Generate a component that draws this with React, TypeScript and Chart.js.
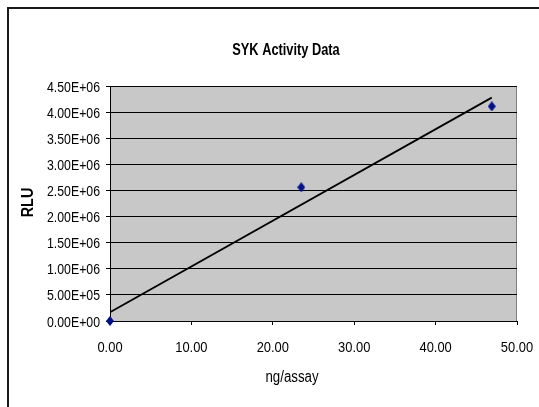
import React, { useEffect, useRef } from "react";
import { Chart, registerables } from "chart.js";

Chart.register(...registerables);

const TITLE = "SYK Activity Data";
const X_TITLE = "ng/assay";
const Y_TITLE = "RLU";
const NG_PER_ASSAY = [0, 23.5, 46.9];
const RLU = [0, 2.56e6, 4.11e6];
const X_TICKS = [0, 10, 20, 30, 40, 50];
const Y_MAX = 4.5e6;
const Y_STEP = 5e5;

const FONT = "'Liberation Sans', Arial, sans-serif";

function fmtExp(v: number): string {
  const s = Number(v).toExponential(2);
  const [m, e] = s.split("e");
  const sign = e.startsWith("-") ? "-" : "+";
  const digits = e.replace(/[+-]/, "").padStart(2, "0");
  return `${m}E${sign}${digits}`;
}

function linearFit(xs: number[], ys: number[]) {
  const n = xs.length;
  const mx = xs.reduce((a, b) => a + b, 0) / n;
  const my = ys.reduce((a, b) => a + b, 0) / n;
  let sxy = 0;
  let sxx = 0;
  for (let i = 0; i < n; i++) {
    sxy += (xs[i] - mx) * (ys[i] - my);
    sxx += (xs[i] - mx) * (xs[i] - mx);
  }
  const slope = sxy / sxx;
  return { slope, intercept: my - slope * mx };
}

function narrowText(
  ctx: CanvasRenderingContext2D,
  text: string,
  x: number,
  y: number,
  font: string,
  sx: number,
  align: CanvasTextAlign,
  rot = 0
) {
  ctx.save();
  ctx.translate(x, y);
  if (rot) ctx.rotate(rot);
  ctx.scale(sx, 1);
  ctx.font = font;
  ctx.textAlign = align;
  ctx.textBaseline = "alphabetic";
  ctx.fillStyle = "#000";
  ctx.fillText(text, 0, 0);
  ctx.restore();
}

function makeDiamond(): HTMLCanvasElement {
  const c = document.createElement("canvas");
  c.width = 8;
  c.height = 10;
  const g = c.getContext("2d")!;
  g.fillStyle = "#00108a";
  g.beginPath();
  g.moveTo(4, 0);
  g.lineTo(8, 5);
  g.lineTo(4, 10);
  g.lineTo(0, 5);
  g.closePath();
  g.fill();
  return c;
}

const plotBg = {
  id: "plotBg",
  beforeDraw(chart: any) {
    const { ctx, chartArea } = chart;
    if (!chartArea) return;
    ctx.save();
    ctx.fillStyle = "#c8c8c8";
    ctx.fillRect(chartArea.left, chartArea.top, chartArea.right - chartArea.left, chartArea.bottom - chartArea.top);
    ctx.strokeStyle = "#808080";
    ctx.lineWidth = 1;
    ctx.strokeRect(chartArea.left + 0.5, chartArea.top + 0.5, chartArea.right - chartArea.left - 1, chartArea.bottom - chartArea.top);
    ctx.restore();
  },
};

const labels = {
  id: "labels",
  afterDraw(chart: any) {
    const { ctx, scales } = chart;
    const xs = scales.x;
    const ys = scales.y;
    const tickFont = `15px ${FONT}`;
    xs.ticks.forEach((t: any) => {
      narrowText(ctx, Number(t.value).toFixed(2), xs.getPixelForValue(t.value), xs.bottom - 86 + 30.5, tickFont, 0.86, "center");
    });
    ys.ticks.forEach((t: any) => {
      narrowText(ctx, fmtExp(Number(t.value)), ys.right - 10, ys.getPixelForValue(t.value) + 5.5, tickFont, 0.82, "right");
    });
    narrowText(ctx, TITLE, 286, 55, `bold 16px ${FONT}`, 0.8, "center");
    narrowText(ctx, X_TITLE, 292, 382, `16px ${FONT}`, 0.83, "center");
    narrowText(ctx, Y_TITLE, 32.5, (ys.top + ys.bottom) / 2 - 1, `bold 16px ${FONT}`, 0.9, "center", -Math.PI / 2);
  },
};

export default function App() {
  const ref = useRef<HTMLCanvasElement | null>(null);

  useEffect(() => {
    if (!ref.current) return;
    const fit = linearFit(NG_PER_ASSAY, RLU);
    const xMin = Math.min(...NG_PER_ASSAY);
    const xMax = Math.max(...NG_PER_ASSAY);
    const trend = [
      { x: xMin, y: fit.intercept + fit.slope * xMin },
      { x: xMax, y: fit.intercept + fit.slope * xMax },
    ];
    const diamond = makeDiamond();
    const chart = new Chart(ref.current, {
      type: "scatter",
      data: {
        datasets: [
          {
            label: "Trend",
            type: "line",
            data: trend,
            borderColor: "#000000",
            borderWidth: 1.75,
            pointRadius: 0,
            fill: false,
          },
          {
            label: "RLU",
            data: NG_PER_ASSAY.map((x, i) => ({ x, y: RLU[i] })),
            pointStyle: diamond,
            pointRadius: 5,
            clip: false,
          },
        ],
      },
      options: {
        animation: false,
        responsive: false,
        devicePixelRatio: 1,
        layout: { padding: { left: 0, right: 22, top: 86, bottom: 0 } },
        plugins: {
          legend: { display: false },
          tooltip: { enabled: false },
          title: { display: false },
        },
        scales: {
          x: {
            type: "linear",
            min: 0,
            max: 50,
            afterBuildTicks: (s: any) => {
              s.ticks = X_TICKS.map((v) => ({ value: v }));
            },
            afterFit: (s: any) => {
              s.height = 86;
            },
            grid: {
              drawOnChartArea: false,
              drawTicks: true,
              tickLength: 4,
              color: "#000",
            },
            border: { color: "#000", width: 1 },
            ticks: { display: false },
          },
          y: {
            type: "linear",
            min: 0,
            max: Y_MAX,
            ticks: { display: false, stepSize: Y_STEP },
            afterFit: (s: any) => {
              s.width = 110;
            },
            grid: {
              color: "#000",
              lineWidth: 1,
              tickLength: 4,
            },
            border: { color: "#000", width: 1 },
          },
        },
      },
      plugins: [plotBg, labels],
    } as any);
    return () => chart.destroy();
  }, []);

  return (
    <div style={{ position: "absolute", left: 0, top: 0, width: 539, height: 407, background: "#fff" }}>
      <canvas ref={ref} width={539} height={407} style={{ position: "absolute", left: 0, top: 0, width: 539, height: 407 }} />
      <div
        style={{
          position: "absolute",
          left: 7,
          top: 7,
          width: 540,
          height: 410,
          borderLeft: "2px solid #1a1a1a",
          borderTop: "2px solid #1a1a1a",
          pointerEvents: "none",
        }}
      />
    </div>
  );
}
